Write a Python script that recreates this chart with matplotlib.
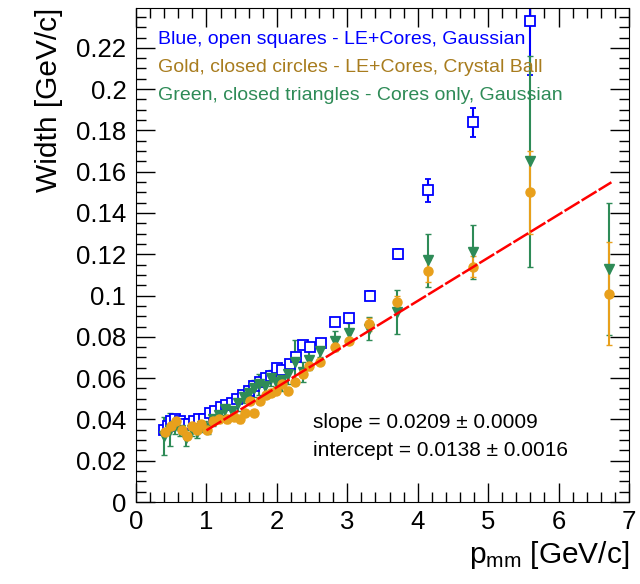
import matplotlib
matplotlib.use("Agg")
from matplotlib import pyplot as plt
from matplotlib.ticker import MultipleLocator

plt.rcParams["font.family"] = ["Liberation Sans", "DejaVu Sans"]
plt.rcParams["mathtext.fontset"] = "custom"
plt.rcParams["mathtext.rm"] = "Liberation Sans"
plt.rcParams["mathtext.it"] = "Liberation Sans"

# blue, open squares - LE+Cores, Gaussian
blue_p = [0.40, 0.45, 0.50, 0.56, 0.62, 0.68, 0.75, 0.82, 0.90, 0.97, 1.05, 1.12, 1.20, 1.28,
          1.36, 1.44, 1.52, 1.60, 1.68, 1.76, 1.84, 1.92, 2.00, 2.08, 2.18, 2.27, 2.37, 2.47,
          2.62, 2.83, 3.03, 3.32, 3.72, 4.15, 4.78, 5.59]
blue_w = [0.035, 0.037, 0.039, 0.040, 0.039, 0.038, 0.038, 0.039, 0.040, 0.040, 0.043, 0.044,
          0.046, 0.047, 0.048, 0.050, 0.052, 0.054, 0.056, 0.058, 0.060, 0.061, 0.065, 0.064,
          0.067, 0.070, 0.076, 0.075, 0.077, 0.087, 0.089, 0.100, 0.120, 0.151, 0.184, 0.233]
blue_err = [0.0012] * 29 + [0.0015, 0.0015, 0.002, 0.0025, 0.0055, 0.007, 0.026]

# gold, closed circles - LE+Cores, Crystal Ball
gold_p = [0.41, 0.49, 0.57, 0.65, 0.72, 0.79, 0.86, 0.93, 1.01, 1.10, 1.18, 1.29, 1.39, 1.48,
          1.55, 1.62, 1.68, 1.76, 1.85, 1.92, 1.99, 2.07, 2.16, 2.26, 2.37, 2.46, 2.61, 2.82,
          3.02, 3.31, 3.71, 4.15, 4.78, 5.59, 6.72]
gold_w = [0.034, 0.037, 0.039, 0.035, 0.032, 0.037, 0.035, 0.038, 0.035, 0.039, 0.040, 0.040,
          0.041, 0.040, 0.043, 0.049, 0.043, 0.049, 0.052, 0.053, 0.054, 0.057, 0.054, 0.058,
          0.062, 0.066, 0.068, 0.075, 0.078, 0.086, 0.097, 0.112, 0.114, 0.150, 0.101]
gold_err = [0.0015] * 29 + [0.003, 0.003, 0.0053, 0.005, 0.020, 0.025]

# green, closed triangles - Cores only, Gaussian
green_p = [0.40, 0.48, 0.55, 0.63, 0.71, 0.79, 0.86, 0.94, 1.02, 1.10, 1.18, 1.27, 1.36, 1.45,
           1.53, 1.60, 1.67, 1.75, 1.83, 1.91, 1.99, 2.07, 2.16, 2.26, 2.37, 2.46, 2.61, 2.82,
           3.02, 3.31, 3.71, 4.15, 4.78, 5.59, 6.72]
green_w = [0.032, 0.035, 0.037, 0.035, 0.031, 0.035, 0.034, 0.037, 0.036, 0.040, 0.042, 0.045,
           0.044, 0.048, 0.051, 0.053, 0.055, 0.057, 0.056, 0.060, 0.058, 0.059, 0.062, 0.068,
           0.063, 0.069, 0.073, 0.078, 0.082, 0.084, 0.092, 0.117, 0.121, 0.165, 0.113]
green_err = [0.009, 0.008, 0.004, 0.003, 0.004, 0.003, 0.003, 0.003, 0.003, 0.003, 0.003, 0.003,
             0.003, 0.004, 0.003, 0.003, 0.004, 0.005, 0.004, 0.004, 0.004, 0.005, 0.005, 0.0105,
             0.005, 0.005, 0.003, 0.005, 0.0045, 0.0056, 0.0105, 0.013, 0.013, 0.051, 0.032]

# linear fit
fit_slope = 0.0209
fit_intercept = 0.0138
fit_range = [1.0, 6.75]

BLUE = "#0000ff"
GOLD = "#e8a01c"
GOLD_TEXT = "#a87c1e"
GREEN = "#2e8b57"

fig = plt.figure(figsize=(6.4, 5.84), dpi=100)
ax = fig.add_axes([136 / 640, 1 - 502 / 584, 493 / 640, 494 / 584])

ax.errorbar(blue_p, blue_w, yerr=blue_err, fmt="s", mfc="white", mec=BLUE, ecolor=BLUE,
            ms=7, mew=1.3, elinewidth=1.5, capsize=2)
ax.errorbar(green_p, green_w, yerr=green_err, fmt="v", color=GREEN, ms=7, elinewidth=1.5,
            capsize=2)
ax.errorbar(gold_p, gold_w, yerr=gold_err, fmt="o", color=GOLD, ms=6.5, elinewidth=1.5,
            capsize=2)

fit_y = [fit_slope * p + fit_intercept for p in fit_range]
ax.plot(fit_range, fit_y, color="red", lw=1.8, ls=(0, (7, 1)), zorder=5)

ax.set_xlim(0, 7)
ax.set_ylim(0, 0.2393)
ax.xaxis.set_major_locator(MultipleLocator(1))
ax.xaxis.set_minor_locator(MultipleLocator(0.2))
ax.yaxis.set_major_locator(MultipleLocator(0.02))
ax.yaxis.set_minor_locator(MultipleLocator(0.005))
ax.yaxis.set_major_formatter(plt.FuncFormatter(lambda v, _: f"{v:g}"))
ax.tick_params(which="both", direction="in", top=True, right=True, labelsize=18.5)
ax.tick_params(which="major", length=14, width=1)
ax.tick_params(which="minor", length=7, width=1)
ax.tick_params(axis="x", pad=6)
ax.tick_params(axis="y", pad=7)

ax.set_ylabel("Width [GeV/c]", fontsize=21.5, loc="top")
ax.yaxis.set_label_coords(-0.148, 1.0)
ax.set_xlabel(r"p$_{\mathrm{mm}}$ [GeV/c]", fontsize=21.5, loc="right")
ax.xaxis.set_label_coords(1.0, -0.075)

ax.text(158 / 640, 1 - 40 / 584, "Blue, open squares - LE+Cores, Gaussian", color=BLUE,
        fontsize=14, va="center", transform=fig.transFigure)
ax.text(158 / 640, 1 - 68 / 584, "Gold, closed circles - LE+Cores, Crystal Ball",
        color=GOLD_TEXT, fontsize=14, va="center", transform=fig.transFigure)
ax.text(158 / 640, 1 - 96 / 584, "Green, closed triangles - Cores only, Gaussian",
        color=GREEN, fontsize=14, va="center", transform=fig.transFigure)

ax.text(313 / 640, 1 - 423 / 584, "slope = 0.0209 \u00b1 0.0009", fontsize=15,
        va="center", transform=fig.transFigure)
ax.text(313 / 640, 1 - 451 / 584, "intercept = 0.0138 \u00b1 0.0016", fontsize=15,
        va="center", transform=fig.transFigure)

fig.savefig("out.png", dpi=100)
plt.close(fig)
